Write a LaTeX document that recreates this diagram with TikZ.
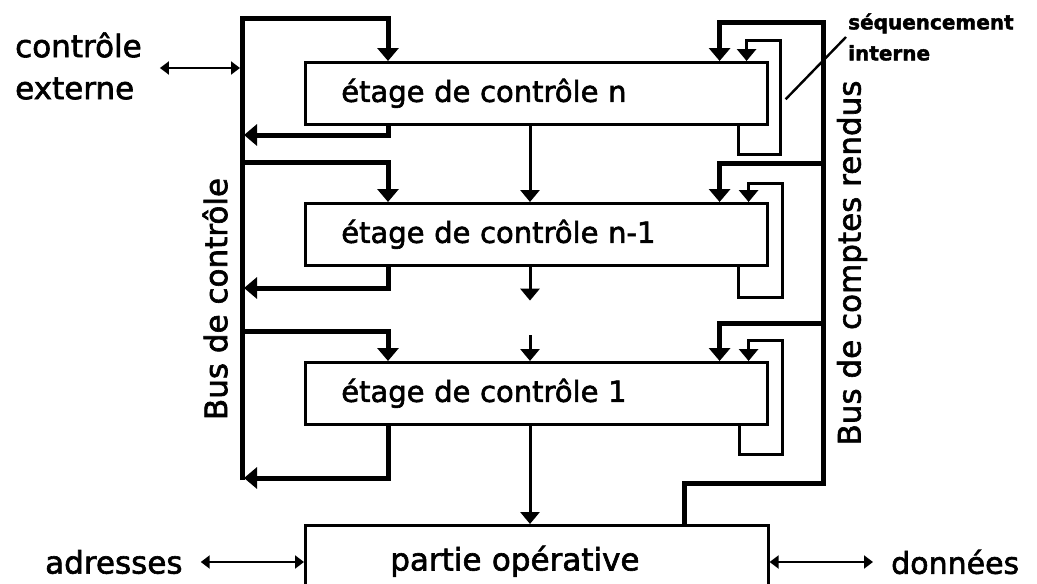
\documentclass[tikz,border=0pt]{standalone}
\usepackage{fontspec}
\setmainfont{DejaVu Sans}[FakeBold=2]
\usetikzlibrary{arrows.meta, calc}
\tikzset{
  etage/.style={
    draw, line width=2.6pt, anchor=north west,
    minimum width=462pt, minimum height=62pt,
    text width=390pt, inner xsep=36pt, inner ysep=0pt, align=left,
    font=\fontsize{29}{34}\selectfont
  },
  lbl/.style={inner sep=0pt, font=\fontsize{31}{42}\selectfont},
  seq/.style={inner sep=2pt, align=left, font=\fontsize{20}{31}\selectfont\bfseries},
  bus/.style={line width=5pt, -{Triangle[length=13pt,width=21pt]}},
  fleche/.style={line width=3pt, -{Triangle[length=12pt,width=19pt]}},
  ext/.style={line width=2pt, shorten <=18pt,
    {Triangle[length=9pt,width=13pt]}-{Triangle[length=9pt,width=13pt]}},
  fil/.style={line width=2.4pt},
}
\begin{document}
\begin{tikzpicture}[x=1pt, y=-1pt]
  \clip (0,0) rectangle (1037,584);

  % etages et partie operative
  \node[etage] (stageN)   at (304,61)  {étage de contrôle n};
  \node[etage] (stageNm)  at (304,202) {étage de contrôle n-1};
  \node[etage] (stageOne) at (304,361) {étage de contrôle 1};
  \node[etage, minimum height=72pt, text width=293pt, inner xsep=85pt,
    font=\fontsize{31}{34}\selectfont] (partie) at (304,524) {partie opérative};

  % bus de controle (gauche)
  \coordinate (cbusTop) at (242,18);
  \coordinate (cbusBot) at (242,480);
  \coordinate (tapNm)  at (242,162);
  \coordinate (tapOne) at (242,331);
  \coordinate (retN)   at (244,135);
  \coordinate (retNm)  at (244,288);
  \coordinate (retOne) at (244,478);
  \draw[bus] (cbusBot) -- (cbusTop) -| ([xshift=84pt]stageN.north west);
  \draw[bus] (tapNm) -| ([xshift=84pt]stageNm.north west);
  \draw[bus] (tapOne) -| ([xshift=84pt]stageOne.north west);
  \draw[bus] ([xshift=84pt]stageN.south west) |- (retN);
  \draw[bus] ([xshift=84pt]stageNm.south west) |- (retNm);
  \draw[bus] ([xshift=84pt]stageOne.south west) |- (retOne);

  % bus de comptes rendus (droite)
  \coordinate (rbusTop) at (823,22);
  \coordinate (rbusBot) at (823,483);
  \coordinate (rtapNm)  at (823,163);
  \coordinate (rtapOne) at (823,323);
  \draw[bus] ([xshift=-85pt]partie.north east) |- (rbusBot) -- (rbusTop)
    -| ([xshift=-49pt]stageN.north east);
  \draw[bus] (rtapNm) -| ([xshift=-49pt]stageNm.north east);
  \draw[bus] (rtapOne) -| ([xshift=-49pt]stageOne.north east);

  % sequencement interne
  \draw[fleche] ([xshift=-30pt]stageN.south east) -- ++(0,29)
    -| ([xshift=12pt,yshift=21pt]stageN.north east) -| ([xshift=-22pt]stageN.north east);
  \draw[fleche] ([xshift=-30pt]stageNm.south east) -- ++(0,31)
    -| ([xshift=14pt,yshift=19pt]stageNm.north east) -| ([xshift=-20pt]stageNm.north east);
  \draw[fleche] ([xshift=-29pt]stageOne.south east) -- ++(0,29)
    -| ([xshift=14pt,yshift=21pt]stageOne.north east) -| ([xshift=-20pt]stageOne.north east);

  % enchainement des etages
  \draw[fleche] ([xshift=226pt]stageN.south west) -- ([xshift=226pt]stageNm.north west);
  \draw[fleche] ([xshift=226pt]stageNm.south west) -- ++(0,34);
  \draw[fleche] ([xshift=226pt,yshift=26pt]stageOne.north west) -- ([xshift=226pt]stageOne.north west);
  \draw[fleche] ([xshift=226pt]stageOne.south west) -- ([xshift=226pt]partie.north west);

  % etiquettes
  \node[lbl, rotate=90] (busCtl) at (215,299) {Bus de contrôle};
  \node[lbl, rotate=90] (busCr) at (852,263) {Bus de comptes rendus};
  \node[seq, anchor=west] (seqInt) at (846,37) {séquencement\\interne};
  \draw[fil] ([xshift=17pt,yshift=-6pt]stageN.east) -- (seqInt.west);

  \node[lbl, anchor=west, align=left] (ctlExt) at (15,66) {contrôle\\externe};
  \coordinate (cExt) at (240,68);
  \draw[ext] (cExt -| ctlExt.east) -- (cExt);
  \node[lbl, anchor=west] (adr) at (45,562) {adresses};
  \draw[ext] (adr) -- (adr -| partie.west);
  \node[lbl, anchor=west, font=\fontsize{30}{42}\selectfont] (don) at (891,562) {données};
  \draw[ext] (don) -- (don -| partie.east);
\end{tikzpicture}
\end{document}
